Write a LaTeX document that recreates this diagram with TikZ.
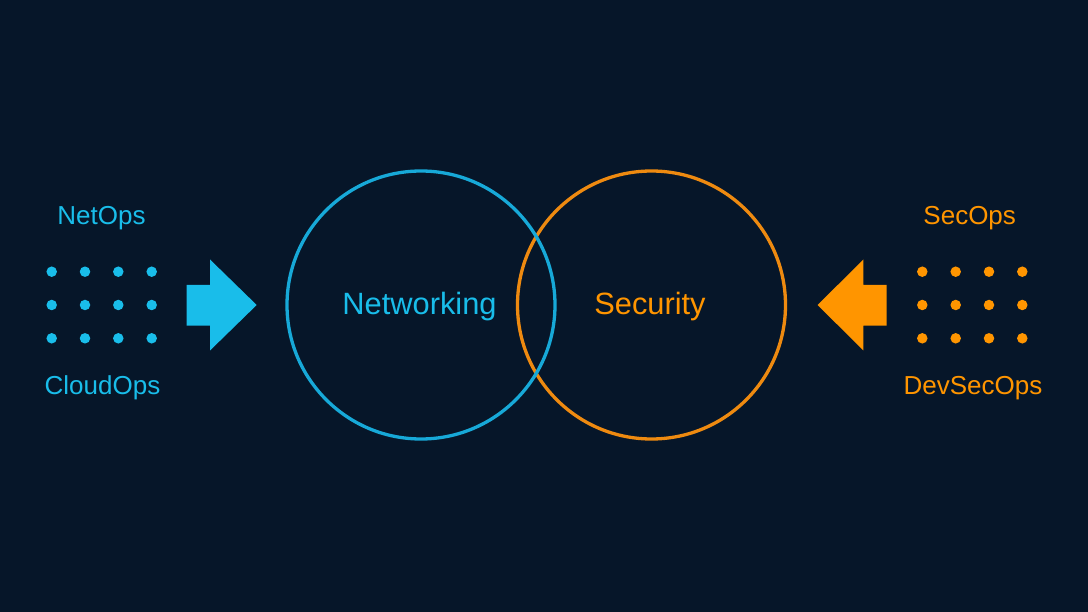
\documentclass[tikz,border=0pt]{standalone}
\usepackage{fontspec}
\setmainfont{Liberation Sans}
\definecolor{bg}{HTML}{061629}
\definecolor{cyanA}{HTML}{19BDEA}
\definecolor{cyanC}{HTML}{17A9D8}
\definecolor{orangeA}{HTML}{FF9500}
\definecolor{orangeC}{HTML}{EE8A10}
\begin{document}
\begin{tikzpicture}[x=1pt,y=-1pt,
  small/.style={font=\fontsize{26}{30}\selectfont, anchor=base, inner sep=0pt},
  big/.style={font=\fontsize{30.8}{34}\selectfont, anchor=base, inner sep=0pt},
  ring/.style={circle, draw, line width=3.3pt, minimum size=268pt, inner sep=0pt},
  dotc/.style={circle, fill, inner sep=0pt, minimum size=10.5pt}]
\fill[bg] (0,0) rectangle (1088,612);
\useasboundingbox (0,0) rectangle (1088,612);
% circles
\node[ring, draw=orangeC] (sec) at (651.5,305) {};
\node[ring, draw=cyanC] (net) at (421,305) {};
% labels in circles
\node[big, text=cyanA] (netl) at (419.5,315) {Networking};
\node[big, text=orangeA] (secl) at (650,315) {Security};
% side labels
\node[small, text=cyanA] (netops) at (101.5,225) {NetOps};
\node[small, text=cyanA] (cloudops) at (102.5,395) {CloudOps};
\node[small, text=orangeA] (secops) at (969.7,225) {SecOps};
\node[small, text=orangeA] (devsecops) at (973,395) {DevSecOps};
% dots
\foreach \x [count=\i] in {51.7,85,118.3,151.7}
  \foreach \y [count=\j] in {271.7,305,338.3}
    \node[dotc, fill=cyanA] (l\i\j) at (\x,\y) {};
\foreach \x [count=\i] in {922.3,955.7,989,1022.3}
  \foreach \y [count=\j] in {271.7,305,338.3}
    \node[dotc, fill=orangeA] (r\i\j) at (\x,\y) {};
% arrows
\fill[cyanA] (186.7,285) -- (210,285) -- (210,259.5) -- (256.7,305) -- (210,350.5) -- (210,325.7) -- (186.7,325.7) -- cycle;
\fill[orangeA] (886.7,285) -- (863.3,285) -- (863.3,259.5) -- (817.7,305) -- (863.3,350.5) -- (863.3,325.7) -- (886.7,325.7) -- cycle;
\end{tikzpicture}
\end{document}
